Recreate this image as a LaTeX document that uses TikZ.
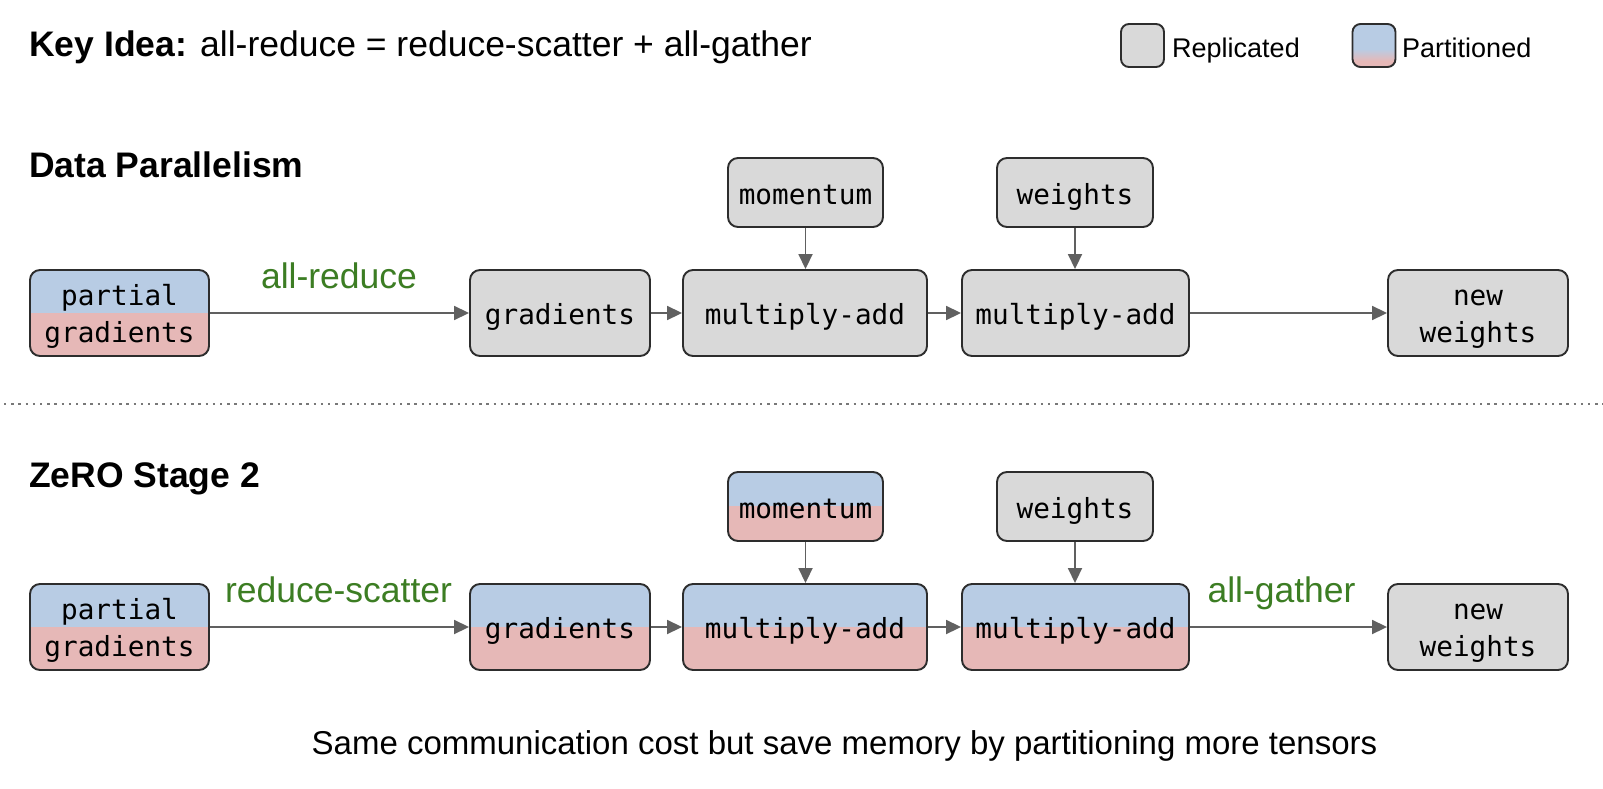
\documentclass[tikz,border=0pt]{standalone}
\usepackage{fontspec}
\setmainfont{Liberation Sans}
\newfontfamily\monof{DejaVu Sans Mono}
\usetikzlibrary{arrows.meta}
\definecolor{repl}{RGB}{217,217,217}
\definecolor{partb}{RGB}{184,204,228}
\definecolor{partp}{RGB}{230,184,183}
\definecolor{edgec}{RGB}{45,45,45}
\definecolor{arrc}{RGB}{96,96,96}
\definecolor{greenc}{RGB}{60,125,35}
\definecolor{dotc}{RGB}{120,120,120}
\pgfdeclareverticalshading{legpart}{100bp}{color(0bp)=(partp); color(25bp)=(partp); color(32bp)=(partp); color(46bp)=(partb); color(100bp)=(partb)}
\tikzset{
  box/.style={draw=edgec, line width=1.9pt, rounded corners=10pt, inner sep=0pt,
    font=\monof\fontsize{27.7}{37}\selectfont, align=center},
  rep/.style={box, fill=repl},
  par/.style={box, path picture={
      \fill[partb, sharp corners] ([xshift=-2pt,yshift=2pt]path picture bounding box.north west) rectangle ([xshift=2pt]path picture bounding box.east);
      \fill[partp, sharp corners] ([xshift=-2pt,yshift=0.3pt]path picture bounding box.west) rectangle ([xshift=2pt,yshift=-2pt]path picture bounding box.south east);}},
  mainrow/.style={minimum height=86pt},
  toprow/.style={minimum height=69pt},
  one/.style={text height=29pt, text depth=6pt},
  arr/.style={draw=arrc, line width=1.8pt, -{Triangle[length=15pt,width=14pt]}},
  glabel/.style={text=greenc, font=\fontsize{35.5}{40}\selectfont, inner sep=0pt},
  title/.style={font=\bfseries\fontsize{35.5}{40}\selectfont, inner sep=0pt, anchor=base west},
  legtext/.style={font=\fontsize{27}{30}\selectfont, inner sep=0pt, anchor=base west},
  legbox/.style={draw=edgec, line width=1.9pt, rounded corners=8pt, minimum width=43pt, minimum height=43pt, inner sep=0pt},
  dotline/.style={draw=dotc, line width=2.4pt, dash pattern=on 2.4pt off 4.8pt}
}
\begin{document}
\begin{tikzpicture}[x=1pt,y=-1pt]
\useasboundingbox (0,0) rectangle (1603,789);

% header
\node[title] (key) at (29,56.7) {Key Idea: \mdseries all-reduce = reduce-scatter + all-gather};
\node[legbox, fill=repl] (legr) at (1142.5,45.5) {};
\node[legtext] (legrt) at (1172,57.7) {Replicated};
\node[legbox, shading=legpart] (legp) at (1374,45.5) {};
\node[legtext] (legpt) at (1402,57.7) {Partitioned};

% Data Parallelism
\node[title] (dp) at (29,177) {Data Parallelism};
\node[par, mainrow, minimum width=179pt] (pg1) at (119.5,313) {\rule{0pt}{27pt}partial\\gradients};
\node[rep, mainrow, one, minimum width=180pt] (gr1) at (560,313) {gradients};
\node[rep, mainrow, one, minimum width=244pt] (ma1) at (805,313) {multiply-add};
\node[rep, mainrow, one, minimum width=227pt] (ma2) at (1075.5,313) {multiply-add};
\node[rep, mainrow, minimum width=180pt] (nw1) at (1478,313) {\rule{0pt}{27pt}new\\weights};
\node[rep, toprow, one, minimum width=155pt] (mo1) at (805.5,192.5) {momentum};
\node[rep, toprow, one, minimum width=156pt] (we1) at (1075,192.5) {weights};
\node[glabel, anchor=base] (lar) at (339,288) {all-reduce};
\draw[arr] (pg1) -- (gr1);
\draw[arr] (gr1) -- (ma1);
\draw[arr] (ma1) -- (ma2);
\draw[arr] (ma2) -- (nw1);
\draw[arr] (mo1.south) -- (mo1.south |- ma1.north);
\draw[arr] (we1.south) -- (we1.south |- ma2.north);

% separator
\coordinate (dl) at (4,404);
\coordinate (dr) at (1603,404);
\draw[dotline] (dl) -- (dr);

% ZeRO Stage 2
\node[title] (zs) at (29,487) {ZeRO Stage 2};
\node[par, mainrow, minimum width=179pt] (pg2) at (119.5,627) {\rule{0pt}{27pt}partial\\gradients};
\node[par, mainrow, one, minimum width=180pt] (gr2) at (560,627) {gradients};
\node[par, mainrow, one, minimum width=244pt] (ma3) at (805,627) {multiply-add};
\node[par, mainrow, one, minimum width=227pt] (ma4) at (1075.5,627) {multiply-add};
\node[rep, mainrow, minimum width=180pt] (nw2) at (1478,627) {\rule{0pt}{27pt}new\\weights};
\node[par, toprow, one, minimum width=155pt] (mo2) at (805.5,506.5) {momentum};
\node[rep, toprow, one, minimum width=156pt] (we2) at (1075,506.5) {weights};
\node[glabel, anchor=base] (lrs) at (338.5,602) {reduce-scatter};
\node[glabel, anchor=base] (lag) at (1281.5,602) {all-gather};
\draw[arr] (pg2) -- (gr2);
\draw[arr] (gr2) -- (ma3);
\draw[arr] (ma3) -- (ma4);
\draw[arr] (ma4) -- (nw2);
\draw[arr] (mo2.south) -- (mo2.south |- ma3.north);
\draw[arr] (we2.south) -- (we2.south |- ma4.north);

% footer
\node[font=\fontsize{33}{38}\selectfont, inner sep=0pt, anchor=base] (foot) at (844.5,754) {Same communication cost but save memory by partitioning more tensors};
\end{tikzpicture}
\end{document}
